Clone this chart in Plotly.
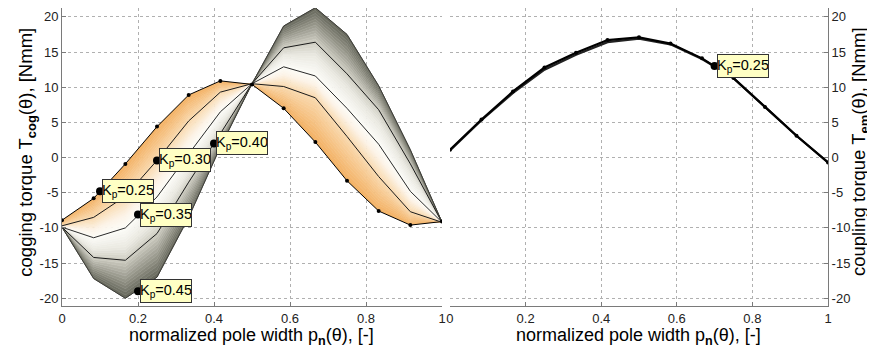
import numpy as np
import plotly.graph_objects as go

# ---------------- data ----------------
x_pn = [0.0, 0.0833, 0.1667, 0.25, 0.3333, 0.4167, 0.5, 0.5833, 0.6667, 0.75, 0.8333, 0.9167, 1.0]

kp_values = [0.25, 0.30, 0.35, 0.40, 0.45]
tcog_kp25 = [-8.9, -5.8, -0.9, 4.4, 8.9, 10.9, 10.4, 7.0, 2.2, -3.3, -7.6, -9.6, -9.1]
tcog_kp30 = [-9.7, -8.5, -5.5, -0.4, 5.2, 9.3, 10.5, 10.1, 8.5, 3.0, -2.7, -7.7, -9.2]
tcog_kp35 = [-9.9, -11.4, -10.0, -5.6, 0.5, 6.5, 10.5, 12.9, 11.6, 7.0, 1.9, -4.8, -9.2]
tcog_kp40 = [-9.9, -14.2, -14.6, -10.8, -3.5, 3.4, 10.5, 15.6, 16.4, 11.9, 6.8, -0.9, -9.2]
tcog_kp45 = [-9.9, -17.2, -20.0, -17.0, -8.5, 1.5, 10.5, 18.7, 21.3, 17.5, 10.2, 1.1, -9.2]

tem_kp25 = [1.1, 5.4, 9.4, 12.8, 14.9, 16.7, 17.1, 16.2, 14.1, 11.3, 7.2, 3.1, -0.7]
tem_kp45 = [1.0, 5.3, 9.2, 12.5, 14.6, 16.4, 16.9, 16.1, 14.0, 11.3, 7.2, 3.1, -0.7]

# data tips (left panel)
tip_labels = ["0.25", "0.30", "0.35", "0.40", "0.45"]
tip_x = [0.10, 0.25, 0.20, 0.40, 0.20]
tip_y = [-4.8, -0.4, -8.1, 2.0, -19.0]
# data tip (right panel)
tip2_label = "0.25"
tip2_x = 0.70
tip2_y = 13.0

x_ticks = [0, 0.2, 0.4, 0.6, 0.8, 1]
x_ticktext = ["0", "0.2", "0.4", "0.6", "0.8", "1"]
y_ticks = [-20, -15, -10, -5, 0, 5, 10, 15, 20]
y_ticktext = ["-20", "-15", "-10", "-5", "0", "5", "10", "15", "20"]

# surface shading colours along Kp (fraction 0 -> Kp=0.25, 1 -> Kp=0.45)
shade_pos = [0.0, 0.25, 0.40, 0.50, 0.65, 0.75, 0.88, 1.0]
shade_rgb = [(243, 176, 98), (249, 218, 176), (252, 244, 232), (252, 252, 248),
             (234, 233, 225), (206, 205, 194), (150, 150, 138), (98, 100, 88)]

FONT = "Liberation Sans, Arial, Helvetica, sans-serif"

curves = [np.array(c) for c in (tcog_kp25, tcog_kp30, tcog_kp35, tcog_kp40, tcog_kp45)]


def shade(f):
    r = np.interp(f, shade_pos, [c[0] for c in shade_rgb])
    g = np.interp(f, shade_pos, [c[1] for c in shade_rgb])
    b = np.interp(f, shade_pos, [c[2] for c in shade_rgb])
    return f"rgb({int(round(r))},{int(round(g))},{int(round(b))})"


fig = go.Figure()

# ---- interpolated shading of the surface between neighbouring Kp curves ----
nsub = 12
first = True
for i in range(len(curves) - 1):
    lo, hi = curves[i], curves[i + 1]
    for j in range(nsub + 1):
        if i > 0 and j == 0:
            continue
        t = j / nsub
        yy = lo + (hi - lo) * t
        fm = (i + max(t - 0.5 / nsub, 0)) / (len(curves) - 1)
        col = shade(fm)
        if first:
            fig.add_trace(go.Scatter(x=x_pn, y=yy, mode="lines",
                                     line=dict(width=0, color=col),
                                     hoverinfo="skip", showlegend=False,
                                     xaxis="x", yaxis="y"))
            first = False
        else:
            fig.add_trace(go.Scatter(x=x_pn, y=yy, mode="lines", fill="tonexty",
                                     fillcolor=col, line=dict(width=0.8, color=col),
                                     hoverinfo="skip", showlegend=False,
                                     xaxis="x", yaxis="y"))

# ---- Kp curves ----
line_cols = ["#000000", "#1a1a1a", "#2a2a2a", "#1a1a1a", "#3c3c38"]
for k, c, lc in zip(kp_values, curves, line_cols):
    fig.add_trace(go.Scatter(x=x_pn, y=c, mode="lines", line=dict(color=lc, width=1),
                             showlegend=False, hoverinfo="skip", xaxis="x", yaxis="y"))
fig.add_trace(go.Scatter(x=x_pn, y=tcog_kp25, mode="markers",
                         marker=dict(color="black", size=4), showlegend=False,
                         hoverinfo="skip", xaxis="x", yaxis="y"))

# ---- coupling torque ----
fig.add_trace(go.Scatter(x=x_pn, y=tem_kp45, mode="lines", line=dict(color="#222", width=2.2),
                         showlegend=False, hoverinfo="skip", xaxis="x2", yaxis="y2"))
fig.add_trace(go.Scatter(x=x_pn, y=tem_kp25, mode="lines+markers",
                         line=dict(color="black", width=2.2), marker=dict(size=4, color="black"),
                         showlegend=False, hoverinfo="skip", xaxis="x2", yaxis="y2"))

# ---- data tip markers ----
fig.add_trace(go.Scatter(x=tip_x, y=tip_y, mode="markers",
                         marker=dict(color="black", size=8), showlegend=False,
                         hoverinfo="skip", xaxis="x", yaxis="y"))
fig.add_trace(go.Scatter(x=[tip2_x], y=[tip2_y], mode="markers",
                         marker=dict(color="black", size=8), showlegend=False,
                         hoverinfo="skip", xaxis="x2", yaxis="y2"))

tipfont = dict(family=FONT, size=14.5, color="black")
annots = []
for lab, tx, ty in zip(tip_labels, tip_x, tip_y):
    annots.append(dict(x=tx, y=ty, xref="x", yref="y", text="K<sub>p</sub>=" + lab,
                       showarrow=False, xanchor="left", yanchor="middle", xshift=2,
                       width=50, height=22, align="center", valign="middle",
                       bgcolor="#ffffc4", bordercolor="#333333", borderwidth=1, borderpad=0,
                       font=tipfont))
annots.append(dict(x=tip2_x, y=tip2_y, xref="x2", yref="y2", text="K<sub>p</sub>=" + tip2_label,
                   showarrow=False, xanchor="left", yanchor="middle", xshift=2,
                   width=50, height=22, align="center", valign="middle",
                   bgcolor="#ffffc4", bordercolor="#333333", borderwidth=1, borderpad=0,
                   font=tipfont))

# axis titles
title_font_x = dict(family=FONT, size=18, color="black")
title_font_y = dict(family=FONT, size=18.5, color="black")
xtitle_text = "normalized pole width p<sub><b>n</b></sub>(θ), [-]"
annots.append(dict(x=0.248, y=-0.104, xref="paper", yref="paper", text=xtitle_text,
                   showarrow=False, xanchor="center", yanchor="middle", font=title_font_x))
annots.append(dict(x=0.753, y=-0.104, xref="paper", yref="paper", text=xtitle_text,
                   showarrow=False, xanchor="center", yanchor="middle", font=title_font_x))
annots.append(dict(x=-0.046, y=0.517, xref="paper", yref="paper", textangle=-90,
                   text="cogging torque T<sub><b>cog</b></sub>(θ), [Nmm]",
                   showarrow=False, xanchor="center", yanchor="middle", font=title_font_y))
annots.append(dict(x=1.042, y=0.517, xref="paper", yref="paper", textangle=-90,
                   text="coupling torque T<sub><b>em</b></sub>(θ), [Nmm]",
                   showarrow=False, xanchor="center", yanchor="middle", font=title_font_y))

axis_common = dict(showgrid=True, gridcolor="#b0b0b0", griddash="dot", gridwidth=1,
                   showline=True, linecolor="#7a7a7a", linewidth=1, ticks="inside",
                   ticklen=4, tickcolor="#7a7a7a", zeroline=False,
                   tickfont=dict(family=FONT, size=13, color="#222"))

yr = [-21.1, 21.26]

# the page body adds an 8px offset, so the figure is 8px smaller and margins shifted
fig.update_layout(
    width=867, height=344,
    margin=dict(l=54, r=47, t=0, b=46),
    paper_bgcolor="white", plot_bgcolor="white",
    showlegend=False,
    annotations=annots,
    xaxis=dict(domain=[0, 0.4961], range=[0, 1], tickvals=x_ticks, ticktext=x_ticktext,
               anchor="y", **axis_common),
    yaxis=dict(domain=[0, 1], range=yr, tickvals=y_ticks, ticktext=y_ticktext, anchor="x",
               **axis_common),
    xaxis2=dict(domain=[0.5065, 1], range=[0, 1], tickvals=x_ticks, ticktext=x_ticktext,
                anchor="y2", **axis_common),
    yaxis2=dict(domain=[0, 1], range=yr, tickvals=y_ticks, ticktext=y_ticktext, anchor="x2",
                side="right", **axis_common),
)

fig.write_html("out.html")
